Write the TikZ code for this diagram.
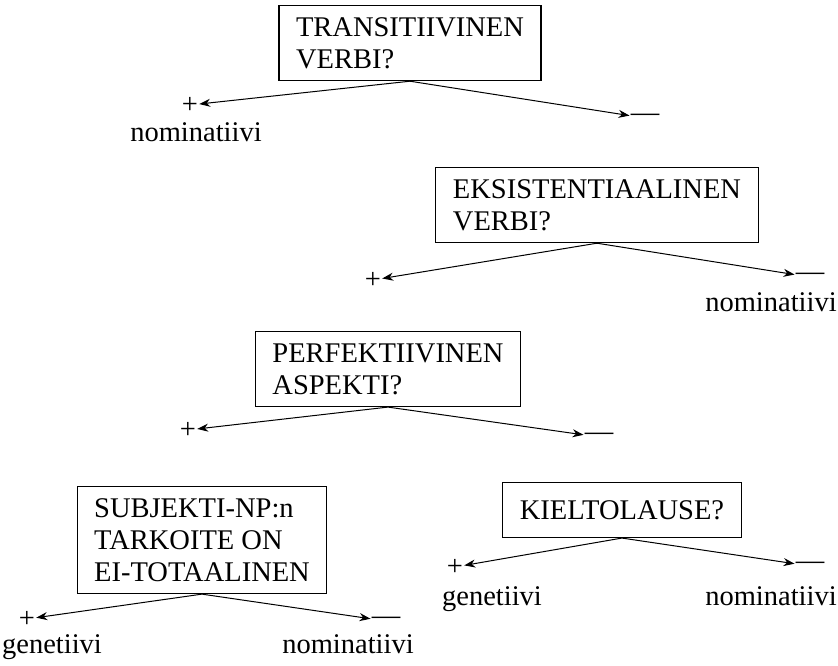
\documentclass[tikz,border=0pt]{standalone}
\usepackage{fontspec}
\setmainfont{Liberation Serif}
\usetikzlibrary{arrows.meta}
\tikzset{>={Stealth[length=11pt,width=8pt,inset=3.5pt]}}
\tikzset{ % node styles
  question/.style={draw,line width=1.1pt,inner xsep=17pt,inner ysep=12pt,
    align=left,font=\fontsize{28.5}{32}\selectfont},
  signlabel/.style={inner sep=1pt,font=\fontsize{28.5}{32}\selectfont},
  answer/.style={anchor=base,inner sep=0pt,font=\fontsize{28.5}{32}\selectfont}
}

\begin{document}
\begin{tikzpicture}[x=1pt,y=1pt]
\useasboundingbox (0,0) rectangle (838,-665);

% questions
\node[question] (q1) at (410,-43)  {TRANSITIIVINEN\\VERBI?};
\node[question] (q2) at (597,-205) {EKSISTENTIAALINEN\\VERBI?};
\node[question] (q3) at (388,-369) {PERFEKTIIVINEN\\ASPEKTI?};
\node[question] (q4) at (202,-540) {SUBJEKTI-NP:n\\TARKOITE ON\\EI-TOTAALINEN};
\node[question,minimum height=55pt] (q5) at (622,-510) {KIELTOLAUSE?};

% plus and minus
\foreach\i/\x/\y in {1/190/-105,2/373/-280,3/188/-430,4/27/-619,5/455/-567}
  \node[signlabel] (p\i) at (\x,\y) {+};
\foreach\i/\x/\y in {1/645/-118,2/810/-277,3/599/-437,4/386/-621,5/810/-566}
  \node[signlabel] (m\i) at (\x,\y) {---};

% cases
\node[answer] (nom1) at (196,-141) {nominatiivi};
\node[answer] (nom2) at (771,-311) {nominatiivi};
\node[answer] (gen4) at (52,-653)  {genetiivi};
\node[answer] (nom4) at (348,-653) {nominatiivi};
\node[answer] (gen5) at (492,-605) {genetiivi};
\node[answer] (nom5) at (771,-605) {nominatiivi};

% connections
\foreach\i in {1,2,3,4,5}
{
  \draw[->,line width=1pt] (q\i.south) -- (p\i);
  \draw[->,line width=1pt] (q\i.south) -- (m\i);
}
\end{tikzpicture}
\end{document}
